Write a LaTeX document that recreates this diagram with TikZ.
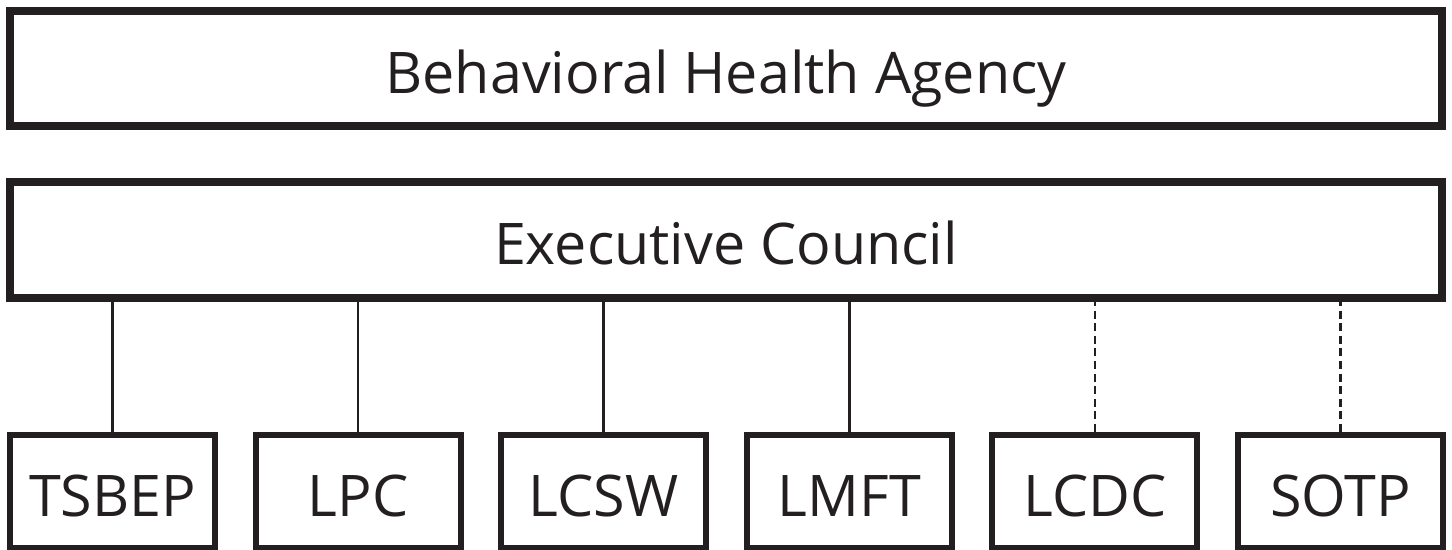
\documentclass[tikz,border=0pt]{standalone}
\usepackage{fontspec}
\setmainfont{Open Sans}
\usepackage{xcolor}
\usetikzlibrary{positioning, calc}

\definecolor{inkblack}{HTML}{231F20}

\tikzset{
  bigbox/.style={draw=inkblack, line width=4pt, inner sep=0pt, outer sep=0pt,
    minimum width=716pt, text=inkblack, font=\fontsize{28.7}{34}\selectfont,
    text height=29pt, text depth=4pt},
  boardbox/.style={draw=inkblack, line width=3pt, inner sep=0pt, outer sep=0pt,
    minimum width=102.5pt, minimum height=56.5pt, text=inkblack,
    font=\fontsize{28.7}{34}\selectfont, text height=29pt, text depth=4pt},
  link/.style={draw=inkblack, line width=1.25pt},
  dashlink/.style={link, dash pattern=on 4pt off 2.3pt}
}

\begin{document}
\begin{tikzpicture}[x=0.5pt, y=0.5pt]
  \useasboundingbox (0,0) rectangle (1452,550);
  \node[bigbox, minimum height=57.5pt] (BHA) at (726,481.5) {Behavioral Health Agency};
  \node[bigbox, minimum height=58pt]   (EC)  at (726,310)   {Executive Council};

  \node[boardbox] (TSBEP) at (112.5,58.5)  {TSBEP};
  \node[boardbox] (LPC)   at (358.1,58.5)  {LPC};
  \node[boardbox] (LCSW)  at (603.7,58.5)  {LCSW};
  \node[boardbox] (LMFT)  at (849.3,58.5)  {LMFT};
  \node[boardbox] (LCDC)  at (1094.9,58.5) {LCDC};
  \node[boardbox] (SOTP)  at (1340.5,58.5) {SOTP};

  \draw[link] (EC.south -| TSBEP) -- (TSBEP.north);
  \draw[link] (EC.south -| LPC)   -- (LPC.north);
  \draw[link] (EC.south -| LCSW)  -- (LCSW.north);
  \draw[link] (EC.south -| LMFT)  -- (LMFT.north);
  \draw[dashlink] (EC.south -| LCDC) -- (LCDC.north);
  \draw[dashlink] (EC.south -| SOTP) -- (SOTP.north);
\end{tikzpicture}
\end{document}
